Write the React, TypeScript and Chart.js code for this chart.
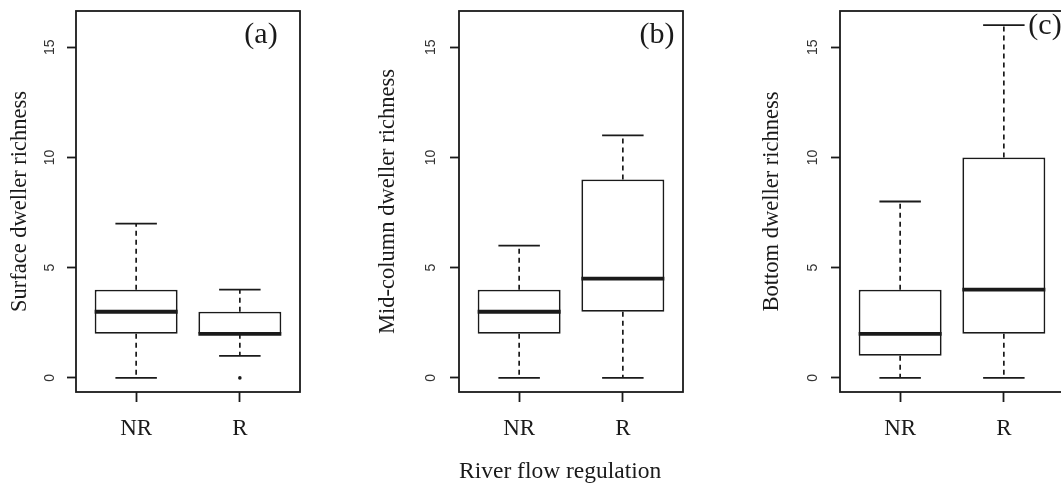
import React, { useEffect, useRef } from 'react';
import { Chart, registerables } from 'chart.js';

Chart.register(...registerables);

// ---- data ----
const groups = ['NR', 'R'];
const yTicks = [0, 5, 10, 15];
const panelTags = ['(a)', '(b)', '(c)'];
const yTitles = ['Surface dweller richness', 'Mid-column dweller richness', 'Bottom dweller richness'];
const xTitle = 'River flow regulation';

// five-number summaries per group (NR, R)
const surfaceLow = [0, 1];
const surfaceQ1 = [2, 2];
const surfaceMedian = [3, 2];
const surfaceQ3 = [4, 3];
const surfaceHigh = [7, 4];
const surfaceOutliers = [[], [0]];

const midLow = [0, 0];
const midQ1 = [2, 3];
const midMedian = [3, 4.5];
const midQ3 = [4, 9];
const midHigh = [6, 11];
const midOutliers = [[], []];

const bottomLow = [0, 0];
const bottomQ1 = [1, 2];
const bottomMedian = [2, 4];
const bottomQ3 = [4, 10];
const bottomHigh = [8, 16];
const bottomOutliers = [[], []];

// ---- styling / layout ----
const INK = '#1a1a1a';
const SERIF = '"Liberation Serif", "Times New Roman", serif';
const SANS = '"Liberation Sans", Arial, sans-serif';
const BOX_HALF = 0.4;
const CAP_HALF = 0.2;
const X_MIN = 0.42;
const X_MAX = 2.58;
const Y_MIN = -0.64;
const Y_MAX = 16.64;

type Summary = {
  low: number[];
  q1: number[];
  median: number[];
  q3: number[];
  high: number[];
  outliers: number[][];
};

const summaries: Summary[] = [
  { low: surfaceLow, q1: surfaceQ1, median: surfaceMedian, q3: surfaceQ3, high: surfaceHigh, outliers: surfaceOutliers },
  { low: midLow, q1: midQ1, median: midMedian, q3: midQ3, high: midHigh, outliers: midOutliers },
  { low: bottomLow, q1: bottomQ1, median: bottomMedian, q3: bottomQ3, high: bottomHigh, outliers: bottomOutliers },
];

const layouts = [
  { left: 0, width: 350, yAxisWidth: 76, padRight: 50, yTitlePad: 6.8, yTickPad: 8.8, tagDx: 39, tagDy: 24 },
  { left: 370, width: 386, yAxisWidth: 89, padRight: 73, yTitlePad: 4.8, yTickPad: 11.3, tagDx: 26, tagDy: 24 },
  { left: 750, width: 330, yAxisWidth: 90, padRight: 16, yTitlePad: 8.8, yTickPad: 10.3, tagDx: 19, tagDy: 15 },
];

const segment = (x0: number, y0: number, x1: number, y1: number, width: number, dash: number[] = []) => ({
  type: 'line' as const,
  data: [
    { x: x0, y: y0 },
    { x: x1, y: y1 },
  ],
  borderColor: INK,
  borderWidth: width,
  borderDash: dash,
  borderCapStyle: 'butt' as const,
  pointRadius: 0,
  pointHoverRadius: 0,
  fill: false,
  order: 0,
});

function buildDatasets(s: Summary) {
  const xs = groups.map((_, i) => i + 1);
  const sets: any[] = [];
  xs.forEach((x, i) => {
    sets.push(segment(x - BOX_HALF, s.median[i], x + BOX_HALF, s.median[i], 3.8));
    sets.push(segment(x, s.q3[i], x, s.high[i], 1.7, [5, 4]));
    sets.push(segment(x, s.q1[i], x, s.low[i], 1.7, [5, 4]));
    sets.push(segment(x - CAP_HALF, s.high[i], x + CAP_HALF, s.high[i], 1.8));
    sets.push(segment(x - CAP_HALF, s.low[i], x + CAP_HALF, s.low[i], 1.8));
  });
  sets.push({
    type: 'scatter',
    data: xs.flatMap((x, i) => s.outliers[i].map((v) => ({ x, y: v }))),
    pointRadius: 1.8,
    pointBackgroundColor: INK,
    pointBorderWidth: 0,
    order: 0,
  });
  sets.push({
    type: 'bar',
    data: xs.map((x, i) => ({ x, y: [s.q1[i], s.q3[i]] })),
    backgroundColor: '#ffffff',
    borderColor: INK,
    borderWidth: 1.8,
    borderSkipped: false,
    categoryPercentage: 1,
    barPercentage: 2 * BOX_HALF,
    order: 5,
  });
  return sets;
}

const framePlugin = {
  id: 'panelFrame',
  afterDraw(chart: any, _args: any, opts: any) {
    const { ctx, chartArea } = chart;
    ctx.save();
    ctx.strokeStyle = INK;
    ctx.lineWidth = 1.8;
    ctx.strokeRect(chartArea.left, chartArea.top, chartArea.right - chartArea.left, chartArea.bottom - chartArea.top);
    ctx.fillStyle = INK;
    ctx.font = `30px ${SERIF}`;
    ctx.textAlign = 'center';
    ctx.textBaseline = 'middle';
    ctx.fillText(opts.tag, chartArea.right - opts.dx, chartArea.top + opts.dy);
    ctx.restore();
  },
};

function Panel({ index }: { index: number }) {
  const ref = useRef<HTMLCanvasElement>(null);
  const lay = layouts[index];

  useEffect(() => {
    if (!ref.current) return;
    const chart = new Chart(ref.current, {
      type: 'bar',
      data: { datasets: buildDatasets(summaries[index]) },
      plugins: [framePlugin],
      options: {
        animation: false,
        responsive: false,
        devicePixelRatio: 1,
        layout: { padding: { top: 11, right: lay.padRight, bottom: 0, left: 0 } },
        plugins: {
          legend: { display: false },
          tooltip: { enabled: false },
          panelFrame: { tag: panelTags[index], dx: lay.tagDx, dy: lay.tagDy },
        } as any,
        scales: {
          x: {
            type: 'linear',
            min: X_MIN,
            max: X_MAX,
            offset: false,
            afterBuildTicks: (scale: any) => {
              scale.ticks = groups.map((_, i) => ({ value: i + 1 }));
            },
            afterFit: (scale: any) => {
              scale.height = 93;
              scale.paddingLeft = 0;
              scale.paddingRight = 0;
            },
            grid: { display: true, offset: false, drawOnChartArea: false, tickLength: 10, tickColor: INK, tickWidth: 1.8 },
            border: { display: false },
            ticks: {
              color: INK,
              font: { family: SERIF, size: 23 },
              padding: 13,
              maxRotation: 0,
              callback: (v: any) => groups[Math.round(Number(v)) - 1] ?? '',
            },
            title: {
              display: index === 1,
              text: xTitle,
              align: 'start',
              color: INK,
              font: { family: SERIF, size: 23.5, lineHeight: 1.1 },
              padding: { top: 0, bottom: 0 },
            },
          },
          y: {
            type: 'linear',
            min: Y_MIN,
            max: Y_MAX,
            afterBuildTicks: (scale: any) => {
              scale.ticks = yTicks.map((v) => ({ value: v }));
            },
            afterFit: (scale: any) => {
              scale.width = lay.yAxisWidth;
              scale.paddingTop = 0;
              scale.paddingBottom = 0;
            },
            grid: { display: true, drawOnChartArea: false, tickLength: 9, tickColor: INK, tickWidth: 1.8 },
            border: { display: false },
            ticks: {
              color: '#333',
              font: { family: SANS, size: 14 },
              minRotation: 90,
              maxRotation: 90,
              crossAlign: 'center',
              padding: lay.yTickPad,
              callback: (v: any) => String(v),
            },
            title: {
              display: true,
              text: yTitles[index],
              color: INK,
              font: { family: SERIF, size: 22.5 },
              padding: { top: lay.yTitlePad, bottom: 0 },
            },
          },
        },
      } as any,
    });
    return () => chart.destroy();
  }, [index]);

  return (
    <div style={{ position: 'absolute', left: lay.left, top: 0, width: lay.width, height: 485 }}>
      <canvas ref={ref} width={lay.width} height={485} style={{ display: 'block' }} />
    </div>
  );
}

export default function App() {
  return (
    <div style={{ position: 'fixed', left: 0, top: 0, width: 1061, height: 485, overflow: 'hidden', background: '#ffffff' }}>
      {layouts.map((_, i) => (
        <Panel key={i} index={i} />
      ))}
    </div>
  );
}
